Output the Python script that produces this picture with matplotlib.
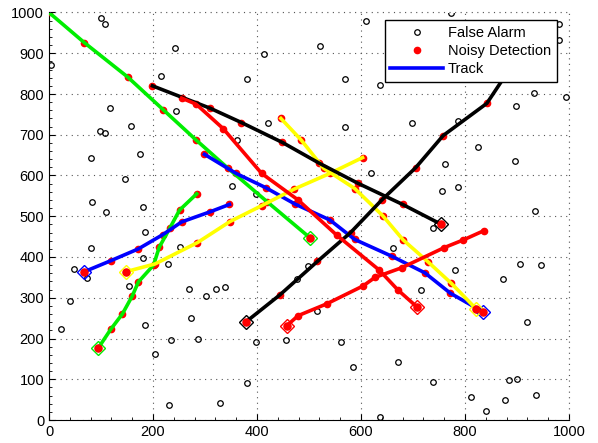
import numpy as np
import matplotlib
matplotlib.use('Agg')
import matplotlib.pyplot as plt
from matplotlib.ticker import MultipleLocator

plt.rcParams['font.family'] = ['Liberation Sans', 'DejaVu Sans']

# false alarms (x, y)
fa_x = [100, 108, 242, 3, 216, 117, 244, 157, 99, 108, 361,
        610, 522, 413, 381, 569, 636, 422, 569, 698,
        773, 980, 981, 932, 994, 899, 786, 825,
        81, 175, 147, 83, 110, 181, 185, 81, 180, 251, 228, 49, 74, 154, 269, 322, 338, 351,
        302, 40, 24, 274, 185, 234, 287, 203, 230, 329,
        619, 398, 661, 499, 476, 715,
        897, 761, 755, 787, 934, 738, 780, 906, 946, 874,
        515, 398, 456, 561, 584, 672, 380, 636,
        919, 738, 885, 900, 811, 876, 937, 841]
fa_y = [986, 972, 914, 871, 845, 765, 759, 722, 709, 704, 687,
        980, 919, 897, 837, 836, 821, 728, 718, 729,
        998, 971, 933, 802, 792, 771, 733, 671,
        642, 653, 591, 536, 510, 522, 461, 423, 398, 425, 384, 370, 349, 330, 321, 322, 327, 575,
        305, 293, 224, 250, 233, 197, 199, 163, 37, 42,
        605, 554, 421, 378, 347, 320,
        635, 628, 563, 573, 514, 470, 368, 384, 380, 345,
        268, 191, 196, 192, 129, 142, 90, 8,
        241, 94, 99, 100, 56, 48, 61, 21]

# tracks: colour, x, y  (first point = start, marked with a diamond)
green_a_x = [502, 420, 344, 283, 220, 151, 68, 0]
green_a_y = [447, 535, 618, 687, 761, 842, 926, 1000]
green_b_x = [95, 119, 141, 160, 172, 201, 212, 232, 251, 284]
green_b_y = [177, 223, 260, 304, 339, 380, 424, 470, 515, 555]
blue_a_x = [68, 119, 172, 219, 255, 310, 347]
blue_a_y = [364, 391, 420, 455, 486, 511, 529]
blue_b_x = [834, 772, 723, 659, 588, 540, 473, 417, 360, 299]
blue_b_y = [266, 311, 361, 402, 443, 491, 530, 570, 605, 652]
yellow_a_x = [148, 204, 285, 348, 409, 472, 540, 603]
yellow_a_y = [364, 383, 435, 487, 526, 567, 605, 644]
yellow_b_x = [822, 774, 729, 681, 642, 588, 528, 485, 446]
yellow_b_y = [272, 335, 388, 442, 501, 568, 618, 687, 740]
black_a_x = [753, 680, 594, 520, 449, 370, 310, 199]
black_a_y = [481, 529, 581, 630, 681, 730, 765, 820]
black_b_x = [378, 444, 516, 580, 640, 705, 758, 842, 880, 905]
black_b_y = [240, 307, 389, 460, 540, 619, 698, 777, 850, 910]
red_a_x = [708, 671, 635, 553, 479, 409, 335, 283, 255]
red_a_y = [277, 319, 368, 454, 540, 605, 715, 775, 790]
red_b_x = [457, 479, 534, 604, 627, 679, 760, 797, 837]
red_b_y = [231, 256, 285, 329, 350, 374, 423, 442, 465]

tracks = [
    ('#00ee00', green_a_x, green_a_y),
    ('#00ee00', green_b_x, green_b_y),
    ('blue', blue_a_x, blue_a_y),
    ('blue', blue_b_x, blue_b_y),
    ('#ffff00', yellow_a_x, yellow_a_y),
    ('#ffff00', yellow_b_x, yellow_b_y),
    ('black', black_a_x, black_a_y),
    ('black', black_b_x, black_b_y),
    ('red', red_a_x, red_a_y),
    ('red', red_b_x, red_b_y),
]

fig = plt.figure(figsize=(5.98, 4.43), dpi=100)
ax = fig.add_axes([49 / 598, 23 / 443, 520 / 598, 407.5 / 443])

ax.plot(fa_x, fa_y, 'o', mfc='none', mec='black', ms=4, mew=0.9, zorder=2,
        label='False Alarm')

for i, (c, x, y) in enumerate(tracks):
    ax.plot(x, y, 'o', color='red', ms=4.5, zorder=3,
            label='Noisy Detection' if i == 0 else None)
for c, x, y in tracks:
    ax.plot(x, y, '-', color=c, lw=2.6, zorder=4,
            label='Track' if c == 'blue' and x is blue_a_x else None)
    ax.plot(x[0], y[0], 'D', mfc='none', mec=c, ms=7, mew=1.0, zorder=5)
    ax.plot(x[0], y[0], 'o', color='red', ms=5, zorder=6)

ax.set_xlim(0, 1000)
ax.set_ylim(0, 1000)
ax.xaxis.set_major_locator(MultipleLocator(200))
ax.yaxis.set_major_locator(MultipleLocator(100))
ax.xaxis.set_minor_locator(MultipleLocator(40))
ax.yaxis.set_minor_locator(MultipleLocator(20))
ax.tick_params(which='both', direction='in', labelsize=10.5, top=False, right=False)
ax.tick_params(which='major', length=4)
ax.tick_params(which='minor', length=2)
ax.spines['top'].set_visible(False)
ax.spines['right'].set_visible(False)
grid_style = dict(linestyle=(0, (1, 4)), color='#555555', lw=0.8)
ax.grid(True, which='major', **grid_style)
ax.set_axisbelow(True)

# dotted lines at the far edges, as in the box-off grid
ax.axhline(1000, zorder=1, clip_on=False, **grid_style)
ax.axvline(1000, zorder=1, clip_on=False, **grid_style)

leg = ax.legend(loc='upper right', bbox_to_anchor=(0.977, 0.982), borderaxespad=0,
                fancybox=False, framealpha=1, edgecolor='black', fontsize=10.5,
                handlelength=3.6, handletextpad=0.35, labelspacing=0.3,
                borderpad=0.4)
leg.get_frame().set_linewidth(1.0)
leg.set_zorder(10)

fig.savefig('out.png', dpi=100)
